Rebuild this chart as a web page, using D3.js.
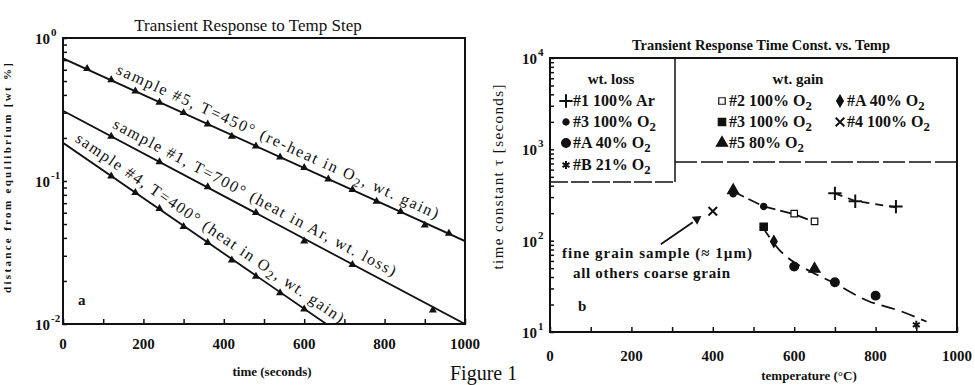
<!DOCTYPE html>
<html>
<head>
<meta charset="UTF-8">
<title>Figure 1</title>
<script src="https://cdn.jsdelivr.net/npm/d3@7"></script>
<style>
  body{margin:0;background:#fff}
  svg{display:block;font-family:"Liberation Serif","DejaVu Serif",serif}
</style>
</head>
<body>
<script>
// ---- panel a : distance from equilibrium vs time (s)
var time5 = [60,120,180,240,300,360,420,480,540,600,660,720,780,840,900,960];
var dist5 = [0.61,0.51,0.425,0.355,0.30,0.25,0.205,0.175,0.147,0.124,0.103,0.087,0.072,0.061,0.049,0.043];
var time1 = [120,240,360,480,600,720,920];
var dist1 = [0.205,0.136,0.091,0.060,0.038,0.026,0.0125];
var time4 = [120,180,240,300,360,420,480,540,600];
var dist4 = [0.108,0.083,0.064,0.048,0.037,0.028,0.0215,0.0165,0.0127];
// fitted lines (end points)
var fitTime5 = [0,1000], fitDist5 = [0.72,0.038];
var fitTime1 = [0,1000], fitDist1 = [0.31,0.01];
var fitTime4 = [0,655],  fitDist4 = [0.185,0.01];
var labelsA = ["sample #5, T=450° (re-heat in O_2, wt. gain)",
               "sample #1, T=700° (heat in Ar, wt. loss)",
               "sample #4, T=400° (heat in O_2, wt. gain)"];

// ---- panel b : time constant (s) vs temperature (C)
var lossAr1  = [[700,330],[750,270],[850,236]];
var lossO2_3 = [[450,325],[525,237]];
var lossO2_A = [[600,52],[700,35],[800,25]];
var lossO2_B = [[900,12]];
var gainO2_2 = [[600,198],[650,163]];
var gainO2_A = [[550,98]];
var gainO2_3 = [[525,142]];
var gainO2_4 = [[400,210]];
var gainO2_5 = [[450,355],[650,49]];
var fitUpper = [[450,345],[525,237],[600,195],[650,160]];
var fitAr    = [[700,330],[750,272],[850,232]];
var fitLower = [[520,146],[565,78],[600,58],[640,46],[700,34],[780,22],[860,17],[925,13]];
var lossLabels = ["#1 100% Ar","#3 100% O_2","#A  40% O_2","#B  21% O_2"];
var gainLabels = ["#2 100% O_2","#A  40% O_2","#3 100% O_2","#4 100% O_2","#5  80% O_2"];
var xTickLabels = [0,200,400,600,800,1000];

var W = 975, H = 385, ink = "#111";
var svg = d3.select("body").append("svg").attr("width",W).attr("height",H);

// text with "_2" style subscripts
function rich(t, str){
  var parts = str.split("_");
  t.append("tspan").text(parts[0]);
  for (var i=1;i<parts.length;i++){
    t.append("tspan").attr("dy",4).attr("font-size","80%").text(parts[i].charAt(0));
    var rest = parts[i].slice(1);
    if (rest) t.append("tspan").attr("dy",-4).text(rest);
  }
  return t;
}

function frame(x, y, labelDy){
  var x0=x.range()[0], x1=x.range()[1], y0=y.range()[1], y1=y.range()[0];
  svg.append("rect").attr("x",x0).attr("y",y0).attr("width",x1-x0).attr("height",y1-y0)
    .attr("fill","none").attr("stroke",ink).attr("stroke-width",2);
  var gx = svg.append("g").attr("transform","translate(0,"+y1+")")
    .call(d3.axisBottom(x).tickValues(d3.range(0,1001,100)).tickSize(-5).tickFormat(""));
  var gy = svg.append("g").attr("transform","translate("+x0+",0)")
    .call(d3.axisLeft(y).tickValues(y.ticks()).tickSize(-4).tickFormat(""));
  [gx,gy].forEach(function(g){
    g.select(".domain").remove();
    g.selectAll("line").attr("stroke",ink).attr("stroke-width",1.5);
  });
  svg.append("g").selectAll("text").data(xTickLabels).enter().append("text")
    .attr("x",function(d){return x(d);}).attr("text-anchor","middle")
    .attr("font-size",15).attr("font-weight","bold").attr("fill",ink).text(function(d){return d;})
    .attr("y", y1+labelDy);
}
function powLabel(xr, yy, e){
  svg.append("text").attr("x",xr).attr("y",yy+6).attr("text-anchor","end")
    .attr("font-size",15).attr("font-weight","bold").attr("fill",ink).text("10");
  svg.append("text").attr("x",xr+1).attr("y",yy-2).attr("font-size",11)
    .attr("font-weight","bold").attr("fill",ink).text(e);
}

// ================= panel a
var xA = d3.scaleLinear().domain([0,1000]).range([63,465]);
var yA = d3.scaleLog().domain([0.01,1]).range([324,38]);
frame(xA, yA, 25);
[[1,"0"],[0.1,"-1"],[0.01,"-2"]].forEach(function(d){ powLabel(50, yA(d[0]), d[1]); });

svg.append("clipPath").attr("id","clipA").append("rect")
  .attr("x",63).attr("y",38).attr("width",402).attr("height",286);
var gA = svg.append("g").attr("clip-path","url(#clipA)");
var lineA = d3.line().x(function(d){return xA(d[0]);}).y(function(d){return yA(d[1]);});
var seriesA = [
  {t:time5, v:dist5, ft:fitTime5, fv:fitDist5},
  {t:time1, v:dist1, ft:fitTime1, fv:fitDist1},
  {t:time4, v:dist4, ft:fitTime4, fv:fitDist4}
];
var labelStart = [122,112,17], labelLen = [352,318,322];
seriesA.forEach(function(s, k){
  var fit = d3.zip(s.ft, s.fv);
  gA.append("path").attr("d",lineA(fit)).attr("fill","none").attr("stroke",ink).attr("stroke-width",1.8);
  gA.selectAll(null).data(d3.zip(s.t, s.v)).enter().append("path")
    .attr("transform",function(d){return "translate("+xA(d[0])+","+yA(d[1])+")";})
    .attr("d",d3.symbol().type(d3.symbolTriangle).size(28)).attr("fill",ink);
  // rotated label running along the fit
  var p0=[xA(s.ft[0]),yA(s.fv[0])], p1=[xA(s.ft[1]),yA(s.fv[1])];
  var ang = Math.atan2(p1[1]-p0[1], p1[0]-p0[0])*180/Math.PI;
  var px = xA(labelStart[k]), f = (px-p0[0])/(p1[0]-p0[0]), py = p0[1]+f*(p1[1]-p0[1]);
  var t = svg.append("text").attr("transform","translate("+px+","+py+") rotate("+ang+")")
    .attr("y",-8).attr("font-size",16).attr("fill",ink)
    .attr("textLength",labelLen[k]).attr("lengthAdjust","spacing");
  rich(t, labelsA[k]);
});
svg.append("text").attr("x",78).attr("y",305).attr("font-size",15).attr("font-weight","bold").attr("fill",ink).text("a");
svg.append("text").attr("x",248).attr("y",31).attr("text-anchor","middle").attr("font-size",17).attr("fill",ink)
  .text("Transient Response to Temp Step");
svg.append("text").attr("x",272).attr("y",376).attr("text-anchor","middle").attr("font-size",13).attr("font-weight","bold")
  .attr("fill",ink).text("time (seconds)");
svg.append("text").attr("transform","translate(11,178) rotate(-90)").attr("text-anchor","middle")
  .attr("font-size",11).attr("font-weight","bold").attr("fill",ink)
  .attr("textLength",230).attr("lengthAdjust","spacing").text("distance from equilibrium [wt %]");

// ================= panel b
var xB = d3.scaleLinear().domain([0,1000]).range([550,957]);
var yB = d3.scaleLog().domain([10,10000]).range([332,58]);
frame(xB, yB, 29);
[[10000,"4"],[1000,"3"],[100,"2"],[10,"1"]].forEach(function(d){ powLabel(537, yB(d[0]), d[1]); });

var sPlus = d3.symbolPlus || d3.symbolCross, sTimes = d3.symbolTimes || d3.symbolCross;
var sAst = d3.symbolAsterisk || d3.symbolStar;
var styleB = [
  {data:lossAr1,  type:sPlus,          size:60, fill:"none", stroke:true},
  {data:lossO2_3, type:d3.symbolCircle,size:30, fill:ink},
  {data:lossO2_A, type:d3.symbolCircle,size:60, fill:ink},
  {data:lossO2_B, type:sAst,           size:45, fill:"none", stroke:true},
  {data:gainO2_2, type:d3.symbolSquare,size:42, fill:"#fff"},
  {data:gainO2_A, type:d3.symbolDiamond,size:40, fill:ink},
  {data:gainO2_3, type:d3.symbolSquare,size:55, fill:ink},
  {data:gainO2_4, type:sTimes,         size:50, fill:"none", stroke:true},
  {data:gainO2_5, type:d3.symbolTriangle,size:55, fill:ink}
];
function marker(g, st, x, y){
  return g.append("path").attr("transform","translate("+x+","+y+")")
    .attr("d",d3.symbol().type(st.type).size(st.size)())
    .attr("fill",st.fill).attr("stroke",ink).attr("stroke-width",st.stroke?2:1.2);
}
var lineB = d3.line().x(function(d){return xB(d[0]);}).y(function(d){return yB(d[1]);});
svg.append("path").attr("d",lineB(fitUpper)).attr("fill","none").attr("stroke",ink)
  .attr("stroke-width",1.8).attr("stroke-dasharray","12,5");
svg.append("path").attr("d",lineB(fitAr)).attr("fill","none").attr("stroke",ink)
  .attr("stroke-width",1.8).attr("stroke-dasharray","8,6");
svg.append("path").attr("d",lineB.curve(d3.curveMonotoneX)(fitLower)).attr("fill","none").attr("stroke",ink)
  .attr("stroke-width",1.8).attr("stroke-dasharray","14,7");
var gB = svg.append("g");
styleB.forEach(function(st){
  st.data.forEach(function(d){ marker(gB, st, xB(d[0]), yB(d[1])); });
});

// legend
svg.append("line").attr("x1",675).attr("x2",675).attr("y1",58).attr("y2",182).attr("stroke",ink).attr("stroke-width",1.5);
svg.append("line").attr("x1",550).attr("x2",675).attr("y1",182).attr("y2",182).attr("stroke",ink)
  .attr("stroke-width",1.5).attr("stroke-dasharray","18,3");
svg.append("line").attr("x1",675).attr("x2",957).attr("y1",162).attr("y2",162).attr("stroke",ink)
  .attr("stroke-width",1.5).attr("stroke-dasharray","22,4");
svg.append("text").attr("x",611).attr("y",84).attr("text-anchor","middle").attr("font-size",15)
  .attr("font-weight","bold").attr("fill",ink).text("wt. loss");
svg.append("text").attr("x",798).attr("y",84).attr("text-anchor","middle").attr("font-size",15)
  .attr("font-weight","bold").attr("fill",ink).text("wt. gain");
var legRow = [106,127,148,170];
lossLabels.forEach(function(lab,i){
  marker(svg, styleB[i], 566, legRow[i]-5);
  rich(svg.append("text").attr("x",573).attr("y",legRow[i]).attr("font-size",16)
    .attr("font-weight","bold").attr("fill",ink), lab);
});
var gainPos = [[0,0],[1,0],[0,1],[1,1],[0,2]];
gainLabels.forEach(function(lab,i){
  var cx = gainPos[i][0] ? 840 : 722, cy = legRow[gainPos[i][1]];
  marker(svg, styleB[4+i], cx, cy-5);
  rich(svg.append("text").attr("x",cx+7).attr("y",cy).attr("font-size",16)
    .attr("font-weight","bold").attr("fill",ink), lab);
});

// fine grain annotation
var fg = [xB(gainO2_4[0][0]), yB(gainO2_4[0][1])];
svg.append("line").attr("x1",fg[0]-52).attr("y1",fg[1]+33).attr("x2",fg[0]-20).attr("y2",fg[1]+11)
  .attr("stroke",ink).attr("stroke-width",1.8);
svg.append("path").attr("transform","translate("+(fg[0]-16)+","+(fg[1]+8)+") rotate("+(Math.atan2(-22,32)*180/Math.PI+90)+")")
  .attr("d",d3.symbol().type(d3.symbolTriangle).size(40)()).attr("fill",ink);
svg.append("text").attr("x",562).attr("y",258).attr("font-size",15).attr("font-weight","bold").attr("fill",ink)
  .attr("textLength",190).attr("lengthAdjust","spacing").text("fine grain sample  (\u2248 1\u00b5m)");
svg.append("text").attr("x",573).attr("y",278).attr("font-size",15).attr("font-weight","bold").attr("fill",ink)
  .attr("textLength",157).attr("lengthAdjust","spacing").text("all others coarse grain");

svg.append("text").attr("x",578).attr("y",311).attr("font-size",15).attr("font-weight","bold").attr("fill",ink).text("b");
svg.append("text").attr("x",761).attr("y",50).attr("text-anchor","middle").attr("font-size",15)
  .attr("font-weight","bold").attr("fill",ink).attr("textLength",258).attr("lengthAdjust","spacingAndGlyphs")
  .text("Transient Response Time Const. vs. Temp");
svg.append("text").attr("x",809).attr("y",380).attr("text-anchor","middle").attr("font-size",13)
  .attr("font-weight","bold").attr("fill",ink).text("temperature (\u00b0C)");
svg.append("text").attr("transform","translate(503,177) rotate(-90)").attr("text-anchor","middle")
  .attr("font-size",15).attr("fill",ink).attr("textLength",185).attr("lengthAdjust","spacing")
  .text("time constant \u03c4 [seconds]");

svg.append("text").attr("x",450).attr("y",380).attr("font-size",20).attr("fill",ink).text("Figure 1");
</script>
</body>
</html>
